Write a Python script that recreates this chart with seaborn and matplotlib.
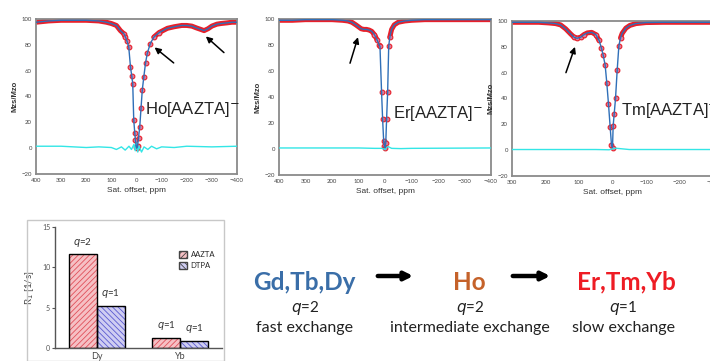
import matplotlib
matplotlib.use("Agg")
import matplotlib.pyplot as plt
import matplotlib.patches as mpatches
import numpy as np
import pandas as pd
import seaborn as sns

# ---- Z-spectra (offset in ppm, Mz/M0 in %) ----
ho_ppm = [400, 350, 300, 250, 200, 150, 120, 100, 80, 64, 50, 44, 38, 31, 24, 19, 15, 11, 7, 4, 1,
          -1, -4, -8, -13, -18, -23, -29, -36, -43, -55, -69, -90, -110, -123, -150, -180, -200,
          -220, -240, -255, -269, -285, -300, -320, -336, -360, -380, -400]
ho_z = [97.5, 98.5, 99, 99, 99, 98.5, 97.5, 96.5, 95, 91, 88.5, 86, 83, 78.6, 63, 56, 50, 22, 12, 6, 1,
        0, 1.5, 8, 16.6, 31, 45, 55, 66, 73.5, 81, 86, 89.5, 91.5, 92.8, 94, 95, 95,
        94.5, 93, 92, 91, 92.5, 94.5, 96, 96.5, 97, 97.5, 97.5]
ho_res_ppm = [400, 300, 200, 150, 100, 80, 60, 45, 30, 20, 10, 5, 0, -5, -10, -20, -30, -45, -60,
              -80, -100, -150, -200, -300, -400]
ho_res = [1.5, 1.5, 0.5, 1, 0.5, -1, 1, -1.5, 1.5, -1, 3, -2, 4, -3, 1.5, -3, 1, -1, 1.5,
          -0.5, 1, 0.5, 1.5, 1, 1.5]

er_ppm = [400, 350, 300, 250, 200, 160, 140, 125, 110, 100, 90, 80, 70, 60, 50, 40, 30, 22, 19, 13,
          9, 5, 2, 0, -3, -6, -10, -14, -18, -25, -35, -50, -75, -100, -150, -200, -250, -300,
          -350, -400]
er_z = [99, 99, 99.5, 99.5, 99.5, 99, 98.5, 97.5, 95.5, 94, 92.5, 92, 92, 91.5, 90.5, 88, 84, 80, 79, 44,
        23, 6, 2, 1, 5, 23, 44, 79, 86, 92, 95.5, 97.5, 98.5, 99, 99.5, 99.5, 99.5, 99.5,
        99.5, 99.5]
er_res_ppm = [400, 200, 100, 40, 10, 0, -10, -25, -60, -100, -200, -400]
er_res = [0.8, 0.8, 0.8, 0.5, 0.5, -0.5, 2, 0.5, 0.3, 0.5, 0.6, 0.8]

tm_ppm = [300, 260, 220, 190, 170, 155, 140, 125, 115, 106, 95, 85, 75, 62, 50, 40, 33, 28, 22, 17,
          12, 7, 3, 0, -2, -5, -9, -14, -19, -24, -29, -40, -52, -70, -100, -150, -200, -250, -300]
tm_z = [99, 99, 99, 98.5, 98, 97, 94, 90, 87.5, 86.6, 87.5, 89.5, 90.8, 91.2, 89.5, 85, 79, 73.7, 66, 52,
        35.8, 18, 4, 2, 19, 28, 40, 62, 80.8, 87, 90.5, 94.5, 96.6, 98, 98.8, 99, 99, 99, 99]
tm_res_ppm = [300, 150, 50, 10, 0, -10, -50, -150, -300]
tm_res = [0.5, 0.5, 0.5, 0.3, 1, 1.5, 0.5, 0.5, 0.5]

# ---- relaxivity bars ----
ions = ["Dy", "Dy", "Yb", "Yb"]
ligands = ["AAZTA", "DTPA", "AAZTA", "DTPA"]
r1 = [11.6, 5.2, 1.3, 0.9]
q_labels = ["2", "1", "1", "1"]

FONT = ["Lato", "DejaVu Sans"]
ARIAL = ["Liberation Sans", "DejaVu Sans"]
RED = "#e8202a"
BLUE = "#2f6fb8"
CYAN = "#33e6e6"

sns.set_theme(style="white")
plt.rcParams["font.family"] = FONT
plt.rcParams["hatch.linewidth"] = 0.6

W, H = 710, 361
fig = plt.figure(figsize=(W / 100, H / 100), dpi=100)


def px_axes(x0, y0, x1, y1):
    return fig.add_axes([x0 / W, 1 - y1 / H, (x1 - x0) / W, (y1 - y0) / H])


def zspec(ax, ppm, z, res_ppm, res, xmax, label, lx, ly, arrows):
    df = pd.DataFrame({"ppm": ppm, "z": z})
    # dense acquisition points merge into a red band on the plateaus
    band = df["z"].where(df["z"] >= 84)
    pts = df["z"].where(df["z"] < 90)
    ax.plot(df["ppm"], band, color=RED, lw=3.6, solid_capstyle="round", zorder=2)
    ax.plot(df["ppm"], pts, ls="none", marker="o", ms=3.4, mfc="#d77fa0", mec=RED,
            mew=0.8, zorder=3)
    sns.lineplot(data=df, x="ppm", y="z", ax=ax, color=BLUE, lw=1.0, sort=False,
                 estimator=None, zorder=4)
    ax.plot(res_ppm, res, color=CYAN, lw=1.0, zorder=3)
    ax.set_xlim(xmax, -xmax)
    ax.set_ylim(-20, 100)
    ax.set_xticks(np.arange(xmax, -xmax - 1, -100))
    ax.set_yticks([-20, 0, 20, 40, 60, 80, 100])
    ax.tick_params(labelsize=4.3, colors="#444444", length=2, width=0.6, pad=1)
    for s in ax.spines.values():
        s.set_color("#8a8a8a")
        s.set_linewidth(1.3)
    ax.set_xlabel("Sat. offset, ppm", fontsize=6, color="#333333", labelpad=3, family=ARIAL)
    ax.set_ylabel("Mzs/Mzo", fontsize=5.5, color="#333333", labelpad=2, fontweight="bold",
                  family=ARIAL)
    ax.text(lx, ly, label, fontsize=12, color="#222222", family=ARIAL, va="center", ha="left")
    for (hx, hy), (tx, ty) in arrows:
        ax.annotate("", xy=(hx, hy), xytext=(tx, ty),
                    arrowprops=dict(arrowstyle="-|>", color="black", lw=1.1,
                                    mutation_scale=9, shrinkA=0, shrinkB=0))


ax1 = px_axes(36, 19, 237, 174)
zspec(ax1, ho_ppm, ho_z, ho_res_ppm, ho_res, 400, r"Ho[AAZTA]$^{-}$", -35, 30,
      [((-72, 78), (-148, 66)), ((-276, 86.5), (-348, 74))])
ax2 = px_axes(279, 19, 491, 175)
zspec(ax2, er_ppm, er_z, er_res_ppm, er_res, 400, r"Er[AAZTA]$^{-}$", -30, 27,
      [((102, 86), (132, 66))])
ax3 = px_axes(512, 21, 713, 176)
zspec(ax3, tm_ppm, tm_z, tm_res_ppm, tm_res, 300, r"Tm[AAZTA]$^{-}$", -25, 31,
      [((112, 80), (139, 60))])

# ---- bottom-left relaxivity box ----
fig.patches.append(mpatches.Rectangle((27 / W, 0), (224 - 27) / W, 1 - 220 / H,
                                      transform=fig.transFigure, fill=False,
                                      edgecolor="#c8c8c8", lw=1.0))
axb = px_axes(55, 227, 222, 348)
bars = pd.DataFrame({"ion": ions, "ligand": ligands, "r1": r1, "q": q_labels})
sns.barplot(data=bars, x="ion", y="r1", hue="ligand", width=0.67, ax=axb,
            palette={"AAZTA": "#f6c0c4", "DTPA": "#cfcdf2"}, legend=False, saturation=1)
hatch_col = {"AAZTA": "#e0505a", "DTPA": "#5a5ad0"}
hatch_pat = {"AAZTA": "//////", "DTPA": "\\\\\\\\\\\\"}
# seaborn draws hue groups in turn: AAZTA (Dy, Yb), then DTPA (Dy, Yb)
drawn = bars.sort_values(["ligand", "ion"]).reset_index(drop=True)
for p, (_, row) in zip(list(axb.patches), drawn.iterrows()):
    p.set_hatch(hatch_pat[row["ligand"]])
    p.set_edgecolor(hatch_col[row["ligand"]])
    p.set_linewidth(0)
    axb.add_patch(mpatches.Rectangle(p.get_xy(), p.get_width(), p.get_height(),
                                     fill=False, edgecolor="black", lw=1.0, zorder=3))
    axb.text(p.get_x() + p.get_width() / 2, p.get_height() + 0.7, rf"$q$={row['q']}",
             ha="center", va="bottom", fontsize=7, color="#333333")
axb.set_xlim(-0.5, 1.5)
axb.set_ylim(0, 15)
axb.set_yticks([0, 5, 10, 15])
axb.set_xlabel("")
axb.set_ylabel(r"R$_1$ [1/s]", fontsize=7, color="#444444", labelpad=4)
axb.tick_params(axis="y", labelsize=5, colors="#555555", length=2.5, width=0.8, pad=1, left=True)
axb.tick_params(axis="x", labelsize=6.5, colors="#444444", length=0, pad=3)
sns.despine(ax=axb)
for s in ("left", "bottom"):
    axb.spines[s].set_color("#555555")
    axb.spines[s].set_linewidth(1.0)
handles = [mpatches.Patch(facecolor="#f6c0c4", edgecolor="#444444", hatch="//////", label="AAZTA"),
           mpatches.Patch(facecolor="#cfcdf2", edgecolor="#444444", hatch="\\\\\\\\\\\\", label="DTPA")]
axb.legend(handles=handles, loc="upper right", bbox_to_anchor=(1.0, 0.86), frameon=False,
           fontsize=5.5, handlelength=1.0, handleheight=1.0, handletextpad=0.5, labelspacing=0.5)

# ---- exchange regime scheme ----
ty = 1 - 282 / H
fig.text(304 / W, ty, "Gd,Tb,Dy", ha="center", va="center", fontsize=17.5, fontweight="bold",
         color="#3a6ea8")
fig.text(469 / W, ty, "Ho", ha="center", va="center", fontsize=17.5, fontweight="bold",
         color="#c5622a")
fig.text(626 / W, ty, "Er,Tm,Yb", ha="center", va="center", fontsize=17.5, fontweight="bold",
         color="#ee1c24")
for x0, x1 in ((375, 416), (510, 553)):
    fig.add_artist(mpatches.FancyArrowPatch((x0 / W, 1 - 276 / H), (x1 / W, 1 - 276 / H),
                                            transform=fig.transFigure, arrowstyle="-|>",
                                            mutation_scale=12, lw=3.2, color="black"))
for xc, q, txt in ((305, "2", "fast exchange"), (470, "2", "intermediate exchange"),
                   (623, "1", "slow exchange")):
    fig.text(xc / W, 1 - 308 / H, rf"$q$={q}", ha="center", va="center", fontsize=11,
             color="#222222")
    fig.text(xc / W, 1 - 328 / H, txt, ha="center", va="center", fontsize=11.5, color="#222222")

fig.savefig("out.png", dpi=100)
